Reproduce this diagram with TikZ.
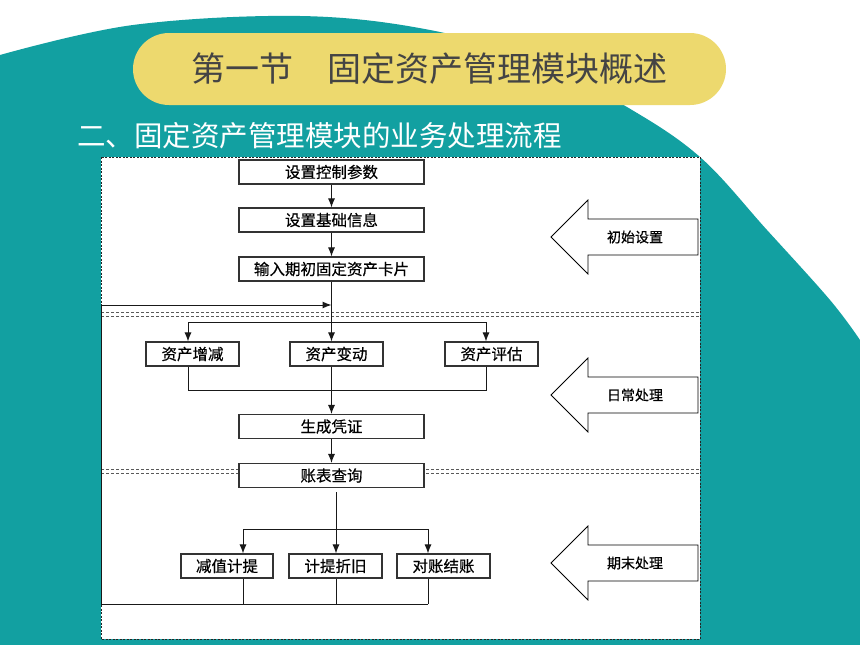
\documentclass[tikz,border=0pt]{standalone}
\usepackage{fontspec}
\newfontfamily\cjk{Noto Sans CJK SC}
\newfontfamily\cjkb[FakeBold=0.5]{Noto Sans CJK SC}
\usetikzlibrary{arrows.meta}
\definecolor{bgteal}{HTML}{12A0A1}
\definecolor{pill}{HTML}{EDD96E}
\definecolor{titlegray}{HTML}{444444}
\definecolor{boxline}{HTML}{333333}
\tikzset{
  fbox/.style={draw=boxline, fill=white, line width=1.1pt, inner sep=0pt, font=\cjkb\fontsize{15.5}{16}\selectfont, text=black},
  wide/.style={fbox, minimum width=185pt, minimum height=24pt},
  narrow/.style={fbox, minimum width=93pt, minimum height=24pt},
  conn/.style={draw=black!90, line width=1pt},
  arr/.style={conn, -{Latex[length=9pt,width=7pt]}},
  sepline/.style={draw=black!65, line width=0.8pt, dash pattern=on 3pt off 2pt},
  frameline/.style={draw=black!85, line width=0.8pt, dash pattern=on 2pt off 1.5pt},
  blockarrow/.style={draw=black, line width=0.8pt, fill=white},
  blabel/.style={font=\cjkb\fontsize{14}{15}\selectfont, text=black}
}
\begin{document}
\begin{tikzpicture}[x=1pt,y=-1pt]
\useasboundingbox (0,0) rectangle (860,645);
% background
\fill[white] (0,0) rectangle (860,645);
\fill[bgteal] plot[smooth, tension=0.6] coordinates {(0,55) (133,25) (300,16) (430,30) (540,62) (627,107) (700,157) (767,230) (830,300) (860,340)} -- (860,645) -- (0,645) -- cycle;
% title pill
\fill[pill, rounded corners=36pt] (133,33) rectangle (726,105);
\node[font=\cjk\fontsize{34}{36}\selectfont, text=titlegray] (title) at (429.5,69) {第一节\quad 固定资产管理模块概述};
\node[font=\cjk\fontsize{28.5}{30}\selectfont, text=white, anchor=west, inner sep=0pt] (sub) at (77,136) {二、固定资产管理模块的业务处理流程};
% frame
\filldraw[fill=white, frameline] (101,157) rectangle (700,639);
% separators
\draw[sepline] (101,312.5) -- (700,312.5);
\draw[sepline] (101,316) -- (700,316);
\draw[sepline] (101,469) -- (700,469);
\draw[sepline] (101,473.5) -- (700,473.5);
% block arrows
\foreach \c/\t/\n in {237/初始设置/ba1, 395/日常处理/ba2, 563/期末处理/ba3}{
  \filldraw[blockarrow] (551,\c) -- (588,\c-37) -- (588,\c-18) -- (698,\c-18) -- (698,\c+18) -- (588,\c+18) -- (588,\c+37) -- cycle;
  \node[blabel] (\n) at (635,\c) {\t};
}
% boxes
\node[wide] (s1) at (331.5,172) {设置控制参数};
\node[wide] (s2) at (331.5,220) {设置基础信息};
\node[wide] (s3) at (331.5,269) {输入期初固定资产卡片};
\node[narrow] (zj) at (192.5,354) {资产增减};
\node[narrow] (zb) at (336.5,354) {资产变动};
\node[narrow] (pg) at (491.5,354) {资产评估};
\node[wide] (sc) at (331.5,426.5) {生成凭证};
\node[wide] (zc) at (331.5,475.5) {账表查询};
\node[narrow, minimum width=92pt] (jz) at (227,566) {减值计提};
\node[narrow] (jt) at (335.5,566) {计提折旧};
\node[narrow] (dz) at (443.5,566) {对账结账};
% coordinates
\coordinate (b1) at (188,322);
\coordinate (b2) at (486,322);
\coordinate (m1) at (188,390);
\coordinate (m2) at (486,390);
\coordinate (zcout) at (336,492);
\coordinate (c1) at (243,529);
\coordinate (c2) at (428,529);
\coordinate (r1) at (243,604);
\coordinate (r2) at (336,604);
\coordinate (r3) at (428,604);
\coordinate (rl) at (101,604);
\coordinate (rt) at (101,305);
% connectors
\draw[arr] (s1) -- (s2);
\draw[arr] (s2) -- (s3);
\draw[arr] (s3.south) -- (s3.south |- zb.north);
\draw[arr] (rt) -- (rt -| s3.south);
\draw[conn] (r3) -- (rl) -- (rt);
\draw[arr] (b1 -| s3.south) -- (b1) -- (b1 |- zj.north);
\draw[arr] (b1 -| s3.south) -- (b2) -- (b2 |- pg.north);
\draw[conn] (m1 |- zj.south) -- (m1) -- (m2) -- (m2 |- pg.south);
\draw[arr] (s3.south |- zb.south) -- (sc.north);
\draw[arr] (sc) -- (zc);
\draw[arr] (zcout) -- (zcout |- jt.north);
\draw[arr] (c1 -| zcout) -- (c1) -- (c1 |- jz.north);
\draw[arr] (c1 -| zcout) -- (c2) -- (c2 |- dz.north);
\draw[conn] (r1 |- jz.south) -- (r1);
\draw[conn] (r2 |- jt.south) -- (r2);
\draw[conn] (r3 |- dz.south) -- (r3);
\end{tikzpicture}
\end{document}
